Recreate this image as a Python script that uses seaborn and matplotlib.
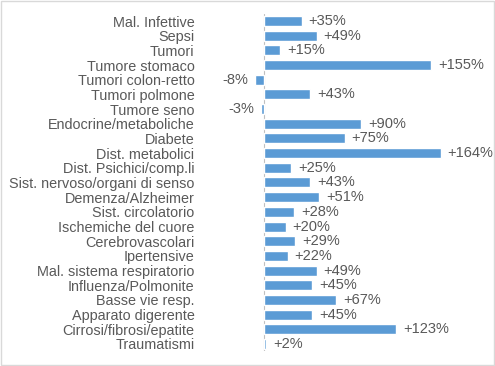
import matplotlib
matplotlib.use("Agg")
import matplotlib.pyplot as plt
import seaborn as sns
import pandas as pd
from matplotlib.patches import Rectangle

categorie = ["Mal. Infettive", "Sepsi", "Tumori", "Tumore stomaco", "Tumori colon-retto",
             "Tumori polmone", "Tumore seno", "Endocrine/metaboliche", "Diabete",
             "Dist. metabolici", "Dist. Psichici/comp.li", "Sist. nervoso/organi di senso",
             "Demenza/Alzheimer", "Sist. circolatorio", "Ischemiche del cuore",
             "Cerebrovascolari", "Ipertensive", "Mal. sistema respiratorio",
             "Influenza/Polmonite", "Basse vie resp.", "Apparato digerente",
             "Cirrosi/fibrosi/epatite", "Traumatismi"]
variazione = [35, 49, 15, 155, -8, 43, -3, 90, 75, 164, 25, 43, 51, 28, 20, 29, 22,
              49, 45, 67, 45, 123, 2]

df = pd.DataFrame({"cat": categorie, "val": variazione})

sns.set_theme(style="white")
plt.rcParams["font.family"] = ["Liberation Sans", "DejaVu Sans"]
text_col = "#595959"

fig = plt.figure(figsize=(4.95, 3.66), dpi=100)
ax = fig.add_axes([200 / 495, 0.0402, 270 / 495, 0.9224])
sns.barplot(data=df, x="val", y="cat", orient="h", color="#5B9BD5",
            saturation=1, width=0.68, ax=ax)

ax.set_xlim((200 - 264) / 1.077, (470 - 264) / 1.077)
ax.set_ylim(len(categorie) - 0.5, -0.5)
ax.axvline(0, color="#BFBFBF", lw=0.8, zorder=0)
for s in ax.spines.values():
    s.set_visible(False)
ax.set_xticks([])
ax.set_xlabel("")
ax.set_ylabel("")
ax.tick_params(axis="y", length=0, pad=4, labelsize=10.4, labelcolor=text_col)

for i, v in enumerate(variazione):
    lab = f"+{v}%" if v > 0 else f"{v}%"
    if v >= 0:
        ax.annotate(lab, (v, i), xytext=(5, 0), textcoords="offset points",
                    va="center", ha="left", fontsize=10.5, color=text_col)
    else:
        ax.annotate(lab, (v, i), xytext=(-5, 0), textcoords="offset points",
                    va="center", ha="right", fontsize=10.5, color=text_col)

fig.patches.append(Rectangle((0.002, 0.003), 0.995, 0.994, transform=fig.transFigure,
                             fill=False, edgecolor="#D9D9D9", lw=1))

fig.savefig("out.png", dpi=100)
